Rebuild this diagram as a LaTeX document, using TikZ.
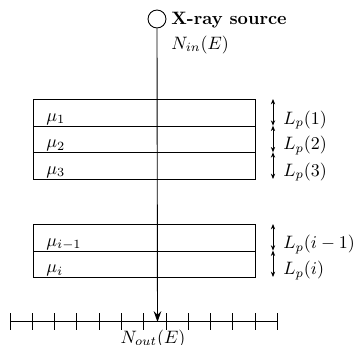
\documentclass[tikz,border=0pt]{standalone}
\usetikzlibrary{arrows.meta}
\begin{document}
\begin{tikzpicture}[x=0.557pt,y=-0.557pt,
  lay/.style={draw,line width=0.5pt,minimum width=123.9pt,minimum height=14.8pt,inner sep=0pt,anchor=north west},
  lab/.style={anchor=base west,inner sep=0pt},
  dim/.style={{Stealth[length=3pt,width=2.4pt]}-{Stealth[length=3pt,width=2.4pt]},line width=0.45pt},
  tk/.style={line width=0.45pt},
  beam/.style={line width=0.5pt}]
\useasboundingbox (0,0) rectangle (355,345);
\node[lay] (l1) at (33,99) {};
\node[lay] (l2) at (33,125.7) {};
\node[lay] (l3) at (33,152.3) {};
\node[lay] (l4) at (33,224) {};
\node[lay] (l5) at (33,250.6) {};
\node[draw,circle,line width=0.5pt,minimum size=10pt,inner sep=0pt] (src) at (157,19) {};
\coordinate (ax1) at (10,321.5);
\coordinate (ax2) at (277.5,321.5);
\coordinate (hit) at (157.5,322);
\draw[tk] (ax1) -- (ax2);
\foreach \i in {0,...,12} {\draw[tk] (10+22.29*\i,313) -- (10+22.29*\i,330);}
\draw[beam,-{Stealth[length=6pt,width=4.2pt]}] (src.south) -- (hit);
\node[lab] (xr) at (171,24) {\textbf{X-ray source}};
\node[lab] (nin) at (171,49) {$N_{in}(E)$};
\node[lab] (m1) at (46,121) {$\mu_1$};
\node[lab] (m2) at (46,147.5) {$\mu_2$};
\node[lab] (m3) at (46,174) {$\mu_3$};
\node[lab] (m4) at (46,246) {$\mu_{i-1}$};
\node[lab] (m5) at (46,272.5) {$\mu_i$};
\node[lab] (d1) at (283,124) {$L_p(1)$};
\node[lab] (d2) at (283,149.5) {$L_p(2)$};
\node[lab] (d3) at (283,176) {$L_p(3)$};
\node[lab] (d4) at (283,248.5) {$L_p(i-1)$};
\node[lab] (d5) at (283,274.5) {$L_p(i)$};
\node[anchor=base,inner sep=0pt] (nout) at (153,343) {$N_{out}(E)$};
\coordinate (a0) at (273,99);\coordinate (a1) at (273,125.7);\coordinate (a2) at (273,152.3);\coordinate (a3) at (273,179);
\coordinate (b0) at (273,224);\coordinate (b1) at (273,250.6);\coordinate (b2) at (273,277);
\draw[dim] (a0)--(a1);\draw[dim] (a1)--(a2);\draw[dim] (a2)--(a3);
\draw[dim] (b0)--(b1);\draw[dim] (b1)--(b2);
\end{tikzpicture}
\end{document}
